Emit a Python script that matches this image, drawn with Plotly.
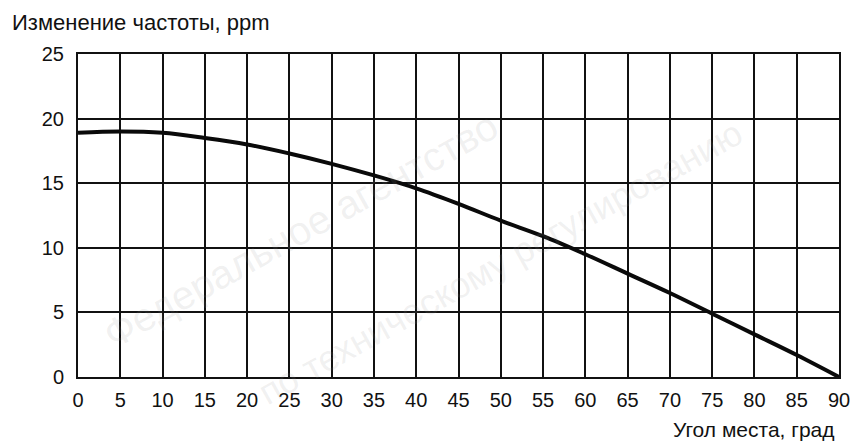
import plotly.graph_objects as go

angles = [0, 5, 10, 15, 20, 25, 30, 35, 40, 45, 50, 55, 60, 65, 70, 75, 80, 85, 90]
freq_change = [18.9, 19.0, 18.9, 18.5, 18.0, 17.3, 16.5, 15.6, 14.6, 13.4, 12.1, 10.9, 9.5, 8.0, 6.5, 4.9, 3.3, 1.7, 0.0]
x_ticks = list(range(0, 95, 5))
y_ticks = [0, 5, 10, 15, 20, 25]

y_title = "Изменение частоты, ppm"
x_title = "Угол места, град"
wm1 = "Федеральное агентство"
wm2 = "по техническому регулированию"

FONT = "Arial, Liberation Sans, sans-serif"
INK = "#111111"

W, H = 856, 444
L, R, T, B = 78, 17, 54, 67
PW, PH = W - L - R, H - T - B

def px(x):
    return (x - L) / PW

def py(y):
    return (H - B - y) / PH

fig = go.Figure()
fig.add_trace(go.Scatter(x=angles, y=freq_change, mode="lines",
                         line=dict(color="#0a0a0a", width=4, shape="spline"),
                         showlegend=False, hoverinfo="skip"))

axis_common = dict(showgrid=True, gridcolor=INK, gridwidth=2,
                   showline=True, linecolor=INK, linewidth=2, mirror=True,
                   zeroline=False, ticks="", tickfont=dict(size=20, color=INK))

fig.update_layout(
    width=W, height=H,
    margin=dict(l=L, r=R, t=T, b=B, autoexpand=False),
    paper_bgcolor="white", plot_bgcolor="white",
    font=dict(family=FONT, size=20, color=INK),
    xaxis=dict(range=[0, 90], tickvals=x_ticks, ticktext=[str(v) for v in x_ticks],
               ticklabelstandoff=4, **axis_common),
    yaxis=dict(range=[0, 25], tickvals=y_ticks, ticktext=[str(v) for v in y_ticks],
               ticklabelstandoff=8, **axis_common),
    annotations=[
        dict(text=wm1, x=px(300), y=py(230), xref="paper", yref="paper",
             xanchor="center", yanchor="middle", textangle=-29,
             showarrow=False, font=dict(size=40, color="rgba(150,150,150,0.14)")),
        dict(text=wm2, x=px(500), y=py(262), xref="paper", yref="paper",
             xanchor="center", yanchor="middle", textangle=-29,
             showarrow=False, font=dict(size=36, color="rgba(150,150,150,0.14)")),
        dict(text=y_title, xref="paper", yref="paper", x=px(10), y=py(37),
             xanchor="left", yanchor="bottom", showarrow=False,
             font=dict(size=22, color=INK)),
        dict(text=x_title, xref="paper", yref="paper", x=px(837), y=py(416),
             xanchor="right", yanchor="top", showarrow=False,
             font=dict(size=21, color=INK)),
    ],
)

fig.write_html("out.html", config={"displayModeBar": False},
               post_script="document.body.style.margin='0';")
